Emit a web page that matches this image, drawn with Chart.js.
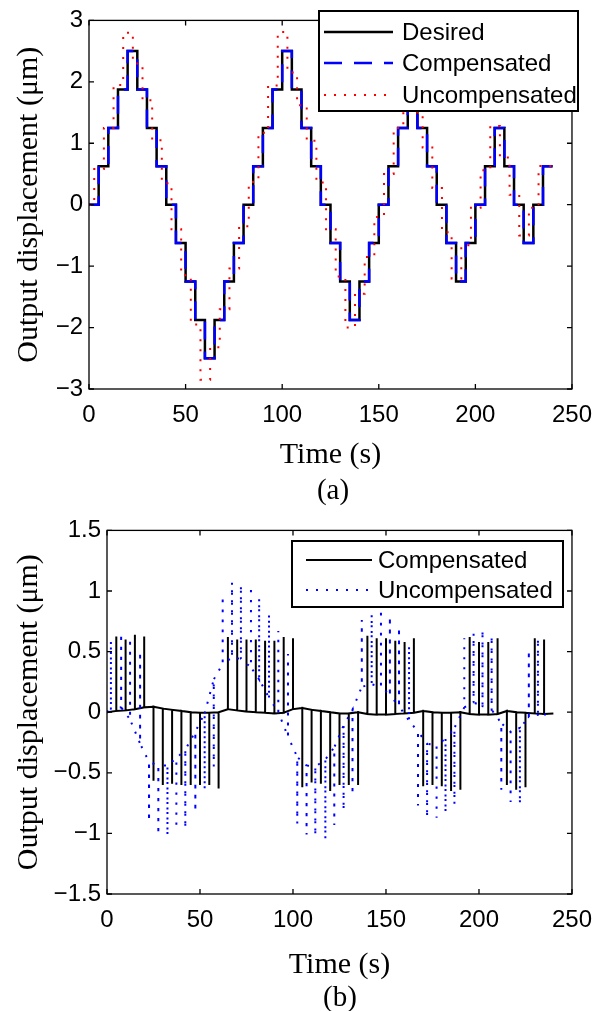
<!DOCTYPE html>
<html>
<head>
<meta charset="utf-8">
<script src="https://cdn.jsdelivr.net/npm/chart.js"></script>
<style>
  body { margin: 0; background: #fff; width: 604px; height: 1011px; position: relative; overflow: hidden; }
  .box { position: absolute; left: 0; width: 604px; height: 475px; }
  .cap { position: absolute; width: 200px; text-align: center; font-family: "Liberation Serif", serif; font-size: 29px; line-height: 32px; color: #000; }
</style>
</head>
<body>
  <div class="box" style="top:0px"><canvas id="chartA" width="604" height="475"></canvas></div>
  <div class="cap" style="left:233px; top:473px;">(a)</div>
  <div class="box" style="top:510px"><canvas id="chartB" width="604" height="475"></canvas></div>
  <div class="cap" style="left:240px; top:980px;">(b)</div>

<script>
  // ---- (a) output displacement, 5 s steps ----
  const gridT = [0, 5, 10, 15, 20, 25, 30, 35, 40, 45, 50, 55, 60, 65, 70, 75, 80, 85, 90, 95,
    100, 105, 110, 115, 120, 125, 130, 135, 140, 145, 150, 155, 160, 165, 170, 175, 180, 185, 190, 195,
    200, 205, 210, 215, 220, 225, 230, 235, 240];

  const desired = [0, .625, 1.25, 1.875, 2.5, 1.875, 1.25, .625, 0, -.625, -1.25, -1.875, -2.5, -1.875, -1.25, -.625,
    0, .625, 1.25, 1.875, 2.5, 1.875, 1.25, .625, 0, -.625, -1.25, -1.875, -1.25, -.625,
    0, .625, 1.25, 1.875, 1.25, .625, 0, -.625, -1.25, -.625,
    0, .625, 1.25, .625, 0, -.625, 0, .625, .625];

  const compensated = [0, .625, 1.25, 1.875, 2.5, 1.875, 1.25, .625, 0, -.625, -1.25, -1.875, -2.5, -1.875, -1.25, -.625,
    0, .625, 1.25, 1.875, 2.5, 1.875, 1.25, .625, 0, -.625, -1.25, -1.875, -1.25, -.625,
    0, .625, 1.25, 1.875, 1.25, .625, 0, -.625, -1.25, -.625,
    0, .625, 1.25, .625, 0, -.625, 0, .625, .625];

  const uncompT = [0, 2.7, 7.7, 12.7, 17.7, 22.7, 27.7, 32.7, 37.7, 42.7, 47.7, 52.7, 57.7, 62.7, 67.7, 72.7,
    77.7, 82.7, 87.7, 92.7, 97.7, 102.7, 107.7, 112.7, 117.7, 122.7, 127.7, 132.7, 137.7, 142.7, 147.7,
    152.7, 157.7, 162.7, 167.7, 172.7, 177.7, 182.7, 187.7, 192.7, 197.7, 202.7, 207.7, 212.7, 217.7,
    222.7, 227.7, 232.7, 240];

  const uncompensated = [0, 0.58, 1.25, 1.95, 2.8, 2.3, 1.7, 1.05, 0.35, -0.4, -1.15, -1.95, -2.85, -2.32, -1.7, -1.04,
    -0.35, 0.37, 1.17, 1.94, 2.81, 2.15, 1.62, 1.04, 0.36, -0.4, -1.17, -2.0, -1.45, -0.85, -0.2,
    0.5, 1.25, 1.95, 1.5, 0.93, 0.27, -0.45, -1.2, -0.66, -0.05, 0.56, 1.28, 0.77, 0.16,
    -0.5, -0.05, 0.63, 0.63];

  // ---- (b) tracking error ----
  const compBase = [0, 0.01, 0.015, 0.025, 0.04, 0.045, 0.03, 0.02, 0.01, 0, -0.005, -0.005, 0, 0.025, 0.015, 0.005,
    0, -0.005, -0.01, -0.005, 0.025, 0.035, 0.02, 0.01, 0, -0.01, -0.01, 0, -0.015, -0.02, -0.02, -0.015,
    -0.01, -0.005, 0.01, 0, -0.005, -0.005, 0, -0.015, -0.02, -0.02, -0.015, 0.01, 0, -0.005, -0.01, -0.015, -0.01];
  const compSpike = [null, 0.625, 0.60, 0.64, 0.625, -0.565, -0.60, -0.59, -0.60, -0.60, -0.60, -0.60, -0.63,
    0.62, 0.60, 0.60, 0.60, 0.59, 0.59, 0.62, 0.61, -0.62, -0.58, -0.59, -0.65, -0.60, -0.60, -0.60,
    0.63, 0.61, 0.61, 0.59, 0.58, 0.61, -0.61, -0.60, -0.61, -0.65, -0.64, 0.62, 0.58, 0.58, 0.61,
    -0.60, -0.64, -0.62, 0.61, 0.60, null];

  const errT = [0, 2.1, 7.6, 12.4, 17.8, 22.6, 27.6, 32.5, 37.3, 42.1, 47.5, 52.5, 57.4, 62.2, 67.2, 72.0, 77.4,
    81.8, 87.1, 92.1, 97.3, 102.3, 107.3, 112.0, 117.4, 122.2, 127.2, 132.0, 137.0, 142.3, 147.3, 152.1,
    157.0, 162.4, 167.2, 172.1, 177.2, 182.0, 186.8, 192.1, 197.1, 201.9, 206.8, 212.0, 217.0, 222.0,
    226.8, 231.7, 238];
  const errBase = [0.0, 0.03, 0.04, -0.06, -0.26, -0.41, -0.44, -0.44, -0.38, -0.31, -0.16, -0.01, 0.27, 0.40,
    0.45, 0.44, 0.37, 0.27, 0.12, 0.0, -0.2, -0.37, -0.44, -0.45, -0.39, -0.29, -0.11, 0.02, 0.21, 0.23,
    0.21, 0.14, 0.05, -0.07, -0.16, -0.26, -0.27, -0.22, -0.13, 0.04, 0.08, 0.05, 0.02, -0.09, -0.16,
    -0.13, -0.04, -0.02, -0.02];
  const errSpike = [null, 0.59, 0.65, 0.61, 0.50, -0.90, -1.01, -1.02, -0.96, -0.96, -0.82, -0.64, -0.45, 0.96,
    1.07, 1.05, 1.04, 0.94, 0.81, 0.67, 0.48, -0.92, -1.01, -1.02, -1.05, -0.93, -0.81, -0.68, 0.76,
    0.81, 0.85, 0.79, 0.70, 0.55, -0.77, -0.87, -0.87, -0.83, -0.76, 0.61, 0.65, 0.68, 0.63, -0.64,
    -0.74, -0.76, 0.51, 0.61, null];

  function pts(xs, ys) {
    return xs.map((x, i) => ({ x: x, y: ys[i] }));
  }
  // baseline with a one-sample spike at each listed time
  function spiky(xs, base, tip) {
    const out = [];
    xs.forEach((x, i) => {
      out.push({ x: x, y: base[i] });
      if (tip[i] !== null) {
        out.push({ x: x, y: tip[i] });
        out.push({ x: x, y: base[i] });
      }
    });
    return out;
  }

  const sans = '"Liberation Sans", Arial, sans-serif';
  const serif = '"Liberation Serif", "Times New Roman", serif';
  const minus = v => String(v).replace('-', '\u2212');

  // box around the plot with inward ticks on all four sides
  const frame = {
    id: 'frame',
    afterDatasetsDraw(chart) {
      const ctx = chart.ctx, a = chart.chartArea, x = chart.scales.x, y = chart.scales.y;
      ctx.save();
      ctx.strokeStyle = '#000';
      ctx.lineWidth = 1.3;
      ctx.beginPath();
      x.ticks.forEach((t, i) => {
        const p = x.getPixelForTick(i);
        ctx.moveTo(p, a.bottom); ctx.lineTo(p, a.bottom - 5);
        ctx.moveTo(p, a.top); ctx.lineTo(p, a.top + 5);
      });
      y.ticks.forEach((t, i) => {
        const p = y.getPixelForTick(i);
        ctx.moveTo(a.left, p); ctx.lineTo(a.left + 5, p);
        ctx.moveTo(a.right, p); ctx.lineTo(a.right - 5, p);
      });
      ctx.stroke();
      ctx.strokeRect(a.left, a.top, a.right - a.left, a.bottom - a.top);
      ctx.restore();
    }
  };

  const boxLegend = {
    id: 'boxLegend',
    afterDraw(chart, args, o) {
      const ctx = chart.ctx;
      ctx.save();
      ctx.fillStyle = '#fff';
      ctx.fillRect(o.x, o.y, o.w, o.h);
      ctx.lineWidth = 2;
      ctx.strokeStyle = '#000';
      ctx.strokeRect(o.x, o.y, o.w, o.h);
      ctx.font = '24px ' + sans;
      ctx.textBaseline = 'middle';
      chart.data.datasets.forEach((ds, i) => {
        const cy = o.rows[i];
        ctx.beginPath();
        ctx.setLineDash(ds.borderDash || []);
        ctx.strokeStyle = ds.borderColor;
        ctx.lineWidth = ds.borderWidth;
        ctx.moveTo(o.x0, cy);
        ctx.lineTo(o.x1, cy);
        ctx.stroke();
        ctx.setLineDash([]);
        ctx.fillStyle = '#000';
        ctx.fillText(ds.label, o.tx, cy + 1);
      });
      ctx.restore();
    }
  };

  function axes(plotLeft, xHeight, yMin, yMax, yStep) {
    return {
      x: {
        type: 'linear', min: 0, max: 250,
        grid: { display: false, drawTicks: false },
        border: { display: false },
        ticks: { stepSize: 50, padding: 12, color: '#000', font: { family: sans, size: 24 } },
        title: { display: true, text: 'Time (s)', color: '#000', font: { family: serif, size: 30 }, padding: { top: 0, bottom: 2 } },
        afterFit(s) { s.height = xHeight; }
      },
      y: {
        type: 'linear', min: yMin, max: yMax,
        grid: { display: false, drawTicks: false },
        border: { display: false },
        ticks: { stepSize: yStep, padding: 6, color: '#000', font: { family: sans, size: 24 }, callback: minus },
        title: { display: true, text: 'Output displacement (\u03bcm)', color: '#000', font: { family: serif, size: 30 }, padding: { top: 11, bottom: 0 } },
        afterFit(s) { s.width = plotLeft; }
      }
    };
  }

  new Chart(document.getElementById('chartA'), {
    type: 'line',
    data: {
      datasets: [
        { label: 'Desired', data: pts(gridT, desired), stepped: true, borderColor: '#000000', borderWidth: 2.5, order: 2 },
        { label: 'Compensated', data: pts(gridT, compensated), stepped: true, borderColor: '#0000ff', borderWidth: 2.5, borderDash: [18, 12], order: 1 },
        { label: 'Uncompensated', data: pts(uncompT, uncompensated), stepped: true, borderColor: '#ff0000', borderWidth: 2, borderDash: [2, 8], order: 0 }
      ]
    },
    options: {
      responsive: false, animation: false, devicePixelRatio: 1,
      layout: { padding: { top: 14, right: 31, left: 0, bottom: 0 } },
      elements: { point: { radius: 0 }, line: { tension: 0 } },
      scales: axes(89, 86, -3, 3, 1),
      plugins: {
        legend: { display: false }, tooltip: { enabled: false },
        boxLegend: { x: 319, y: 11, w: 259, h: 100, x0: 324, x1: 393, tx: 402, rows: [32, 63, 95] }
      }
    },
    plugins: [frame, boxLegend]
  });

  new Chart(document.getElementById('chartB'), {
    type: 'line',
    data: {
      datasets: [
        { label: 'Compensated', data: spiky(gridT, compBase, compSpike), borderColor: '#000000', borderWidth: 2, order: 1 },
        { label: 'Uncompensated', data: spiky(errT, errBase, errSpike), borderColor: '#0000ff', borderWidth: 2, borderDash: [2, 8], order: 0 }
      ]
    },
    options: {
      responsive: false, animation: false, devicePixelRatio: 1,
      layout: { padding: { top: 19, right: 30, left: 0, bottom: 0 } },
      elements: { point: { radius: 0 }, line: { tension: 0 } },
      scales: axes(107, 91, -1.5, 1.5, 0.5),
      plugins: {
        legend: { display: false }, tooltip: { enabled: false },
        boxLegend: { x: 292, y: 31, w: 271, h: 66, x0: 306, x1: 372, tx: 378, rows: [50, 80] }
      }
    },
    plugins: [frame, boxLegend]
  });
</script>
</body>
</html>
